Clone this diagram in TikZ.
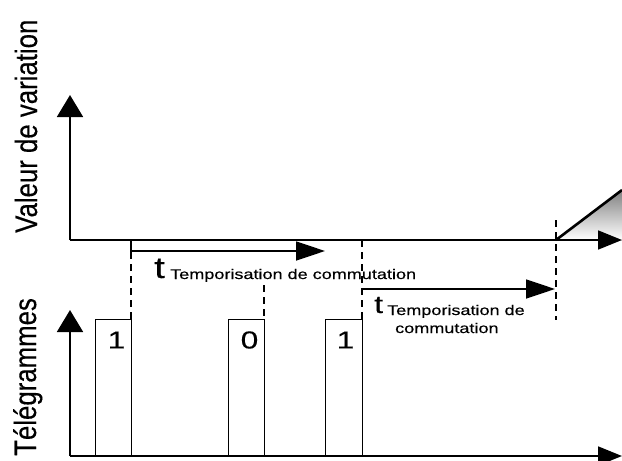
\documentclass[tikz,border=0pt]{standalone}
\usepackage{fontspec}
\setmainfont{Liberation Sans}[FakeBold=0.35]
\usepackage{graphicx}
\usetikzlibrary{arrows.meta}
% horizontally widened text, and text thickened across its baseline
\newcommand{\widetext}[2][1.29]{\scalebox{#1}[1]{#2}}
\newcommand{\thicktext}[2][1.2]{\scalebox{1}[#1]{#2}}
\definecolor{shade}{HTML}{CFD1D3}

\begin{document}
\begin{tikzpicture}[x=1pt,y=-1pt,
  yaxis/.style={line width=1.8pt, -{Triangle[length=22pt,width=26pt]}},
  xaxis/.style={line width=1.8pt, -{Triangle[length=24pt,width=19pt]}},
  delay/.style={line width=1.8pt, -{Triangle[length=29pt,width=19pt]}},
  guide/.style={line width=1.6pt, dash pattern=on 7pt off 5pt},
  frame/.style={line width=0.9pt},
  axislabel/.style={rotate=90, anchor=base west, inner sep=0pt,
    font=\fontsize{25.8}{30}\selectfont},
  plain/.style={anchor=base west, inner sep=0pt}
]
\useasboundingbox (0,0) rectangle (622,461);

% ---- upper chart: value of the variation ----
\coordinate (vo) at (70,240);
\coordinate (vtop) at (70,95);
\coordinate (vend) at (622,240);
\coordinate (rampA) at (556,240);
\coordinate (rampB) at (622,190);
\coordinate (rampC) at (622,240);

\fill[shade] (rampA) -- (rampB) -- (rampC) -- cycle;
\draw[line width=2.6pt] (rampA) -- (rampB);
\draw[yaxis] (vo) -- (vtop);
\draw[xaxis] (vo) -- (vend);

\node[axislabel] (vlabel) at (37,233) {\thicktext{Valeur de variation}};

% ---- lower chart: telegrams ----
\coordinate (to) at (70,456);
\coordinate (ttop) at (70,310);
\coordinate (tend) at (622,456);

\draw[yaxis] (to) -- (ttop);
\draw[xaxis] (to) -- (tend);

\node[axislabel] (tlabel) at (36,456) {\thicktext{Télégrammes}};

% telegram frames
\draw[frame] (95,456) |- (131,319) -- (131,456);
\draw[frame] (228,456) |- (264,319) -- (264,456);
\draw[frame] (325,456) |- (362,319) -- (362,456);

\node (bit1) at (116.5,340) {\widetext{\fontsize{24.5}{26}\selectfont 1}};
\node (bit0) at (249.5,340) {\widetext{\fontsize{24.5}{26}\selectfont 0}};
\node (bit2) at (345.5,340) {\widetext{\fontsize{24.5}{26}\selectfont 1}};

% ---- guide lines between the two charts ----
\coordinate (g1a) at (131,240);
\coordinate (g1b) at (131,319);
\coordinate (g2a) at (264,285);
\coordinate (g2b) at (264,319);
\coordinate (g3a) at (362,240);
\coordinate (g3b) at (362,319);
\coordinate (g4a) at (556,220);
\coordinate (g4b) at (556,320);

\draw[guide] (g1a) -- (g1b);
\draw[guide] (g2a) -- (g2b);
\draw[guide] (g3a) -- (g3b);
\draw[guide] (g4a) -- (g4b);

% ---- switching delays ----
\coordinate (d1s) at (131,251);
\coordinate (d1e) at (325,251);
\draw[delay] (g1a) -- (d1s) -- (d1e);

\coordinate (d2s) at (362,289);
\coordinate (d2e) at (555,289);
\draw[delay] (d2s) -- (d2e);

\node[plain] (t1) at (154,278) {\widetext{\fontsize{30}{32}\selectfont t}};
\node[plain] (sub1) at (170,279)
  {\widetext{\fontsize{14}{16}\selectfont Temporisation de commutation}};

\node[plain] (t2) at (374,313) {\widetext{\fontsize{25}{27}\selectfont t}};
\node[plain] (sub2a) at (387,315)
  {\widetext{\fontsize{14}{16}\selectfont Temporisation de}};
\node[plain] (sub2b) at (395,333)
  {\widetext{\fontsize{14}{16}\selectfont commutation}};
\end{tikzpicture}
\end{document}
